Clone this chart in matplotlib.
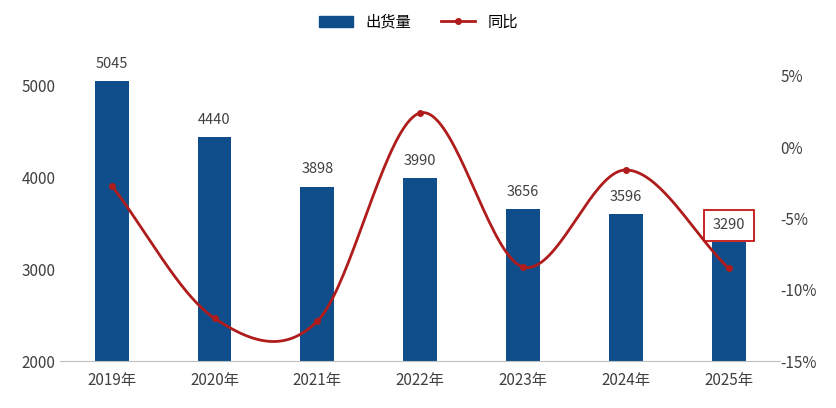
import matplotlib
matplotlib.use("Agg")
import matplotlib.pyplot as plt
import numpy as np
from matplotlib.patches import Rectangle
from matplotlib.lines import Line2D

plt.rcParams['font.family'] = ['Noto Sans CJK SC', 'DejaVu Sans']

years = ['2019年', '2020年', '2021年', '2022年', '2023年', '2024年', '2025年']
shipments = [5045, 4440, 3898, 3990, 3656, 3596, 3290]
yoy = [-2.7, -12.0, -12.2, 2.4, -8.4, -1.6, -8.5]

bar_c = '#0f4e8a'
line_c = '#b01c1c'

fig = plt.figure(figsize=(8.37, 4.08), dpi=100)
ax = fig.add_axes([0.072, 0.115, 0.86, 0.755])
x = np.arange(len(years))
ax.bar(x, shipments, width=0.33, color=bar_c, zorder=2)
ax.set_ylim(2000, 5350)
ax.set_xlim(-0.5, len(years) - 0.5)
ax.set_yticks([2000, 3000, 4000, 5000])
ax.set_xticks(x)
ax.set_xticklabels(years)
for s in ['top', 'right', 'left']:
    ax.spines[s].set_visible(False)
ax.spines['bottom'].set_color('#bfbfbf')
ax.tick_params(length=0, labelsize=11, colors='#404040')
ax.tick_params(axis='x', pad=8)
for i, v in enumerate(shipments):
    t = ax.text(i, v + 110, str(v), ha='center', va='bottom', fontsize=10.5, color='#404040', zorder=5)
    if i == len(shipments) - 1:
        t.set_bbox(dict(facecolor='white', edgecolor='#c00000', linewidth=1.2, boxstyle='square,pad=0.6'))

ax2 = ax.twinx()
ax2.set_ylim(-15, 6.6)
ax2.set_yticks([5, 0, -5, -10, -15])
ax2.set_yticklabels(['5%', '0%', '-5%', '-10%', '-15%'])
for s in ax2.spines.values():
    s.set_visible(False)
ax2.tick_params(length=0, labelsize=11, colors='#404040', pad=0)

# smooth curve through points (Catmull-Rom)
P = np.array(list(zip(x, yoy)), dtype=float)
Pe = np.vstack([2 * P[0] - P[1], P, 2 * P[-1] - P[-2]])
xs, ys = [], []
for i in range(1, len(Pe) - 2):
    p0, p1, p2, p3 = Pe[i - 1], Pe[i], Pe[i + 1], Pe[i + 2]
    t = np.linspace(0, 1, 40)[:, None]
    c = 0.5 * ((2 * p1) + (-p0 + p2) * t + (2 * p0 - 5 * p1 + 4 * p2 - p3) * t**2 + (-p0 + 3 * p1 - 3 * p2 + p3) * t**3)
    xs.extend(c[:, 0]); ys.extend(c[:, 1])
ax2.plot(xs, ys, color=line_c, lw=2, zorder=3)
ax2.plot(x, yoy, 'o', color=line_c, ms=4, zorder=4)

handles = [Rectangle((0, 0), 1, 1, color=bar_c),
           Line2D([0], [0], color=line_c, lw=2, marker='o', ms=4)]
fig.legend(handles, ['出货量', '同比'], loc='upper center', bbox_to_anchor=(0.5, 1.0),
           ncol=2, frameon=False, fontsize=11, handlelength=2.2, columnspacing=2)
fig.savefig('out.png', dpi=100)
